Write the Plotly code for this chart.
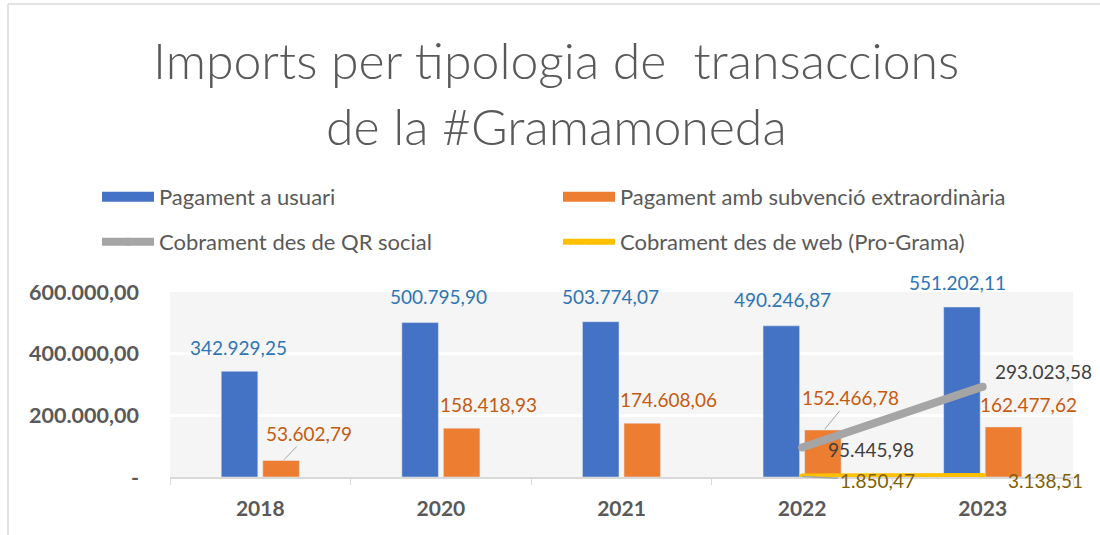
import plotly.graph_objects as go

years = ["2018", "2020", "2021", "2022", "2023"]
pagament_usuari = [342929.25, 500795.90, 503774.07, 490246.87, 551202.11]
pagament_subvencio = [53602.79, 158418.93, 174608.06, 152466.78, 162477.62]
line_years = ["2022", "2023"]
cobrament_qr = [95445.98, 293023.58]
cobrament_web = [1850.47, 3138.51]

y_tickvals = [0, 200000, 400000, 600000]
y_ticktext = ["-", "200.000,00", "400.000,00", "600.000,00"]


def fmt(v):
    s = f"{v:,.2f}"
    return s.replace(",", "X").replace(".", ",").replace("X", ".")


W, H = 1100, 535
ML, MR, MT, MB = 170, 27, 292, 58
PW, PH = W - ML - MR, H - MT - MB

BLUE, ORANGE, GRAY, YELLOW = "#4472C4", "#ED7D31", "#A5A5A5", "#FFC000"
FONT = "Lato"
TXT = "#595959"

fig = go.Figure()
fig.add_trace(go.Bar(x=years, y=pagament_usuari, name="Pagament a usuari",
                     marker_color=BLUE, showlegend=False))
fig.add_trace(go.Bar(x=years, y=pagament_subvencio, name="Pagament amb subvenció extraordinària",
                     marker_color=ORANGE, showlegend=False))
fig.add_trace(go.Scatter(x=line_years, y=cobrament_qr, name="Cobrament des de QR social",
                         mode="lines+markers", line=dict(color=GRAY, width=8),
                         marker=dict(color=GRAY, size=8), legend="legend2"))
fig.add_trace(go.Scatter(x=line_years, y=cobrament_web, name="Cobrament des de web (Pro-Grama)",
                         mode="lines+markers", line=dict(color=YELLOW, width=6),
                         marker=dict(color=YELLOW, size=6), legend="legend2"))
# legend swatches for the bar series (wide rectangles as in the original)
for nm, col in [("Pagament a usuari", BLUE), ("Pagament amb subvenció extraordinària", ORANGE)]:
    fig.add_trace(go.Scatter(x=[None], y=[None], name=nm, mode="lines",
                             line=dict(color=col, width=14), legend="legend"))


def xi(yr):
    return years.index(yr)


ann = []
lab_font = dict(family=FONT, size=19)
# blue labels (x offset, y offset in px relative to category centre / bar top)
blue_off = [(-22, 24), (-2, 26), (-11, 25), (-20, 26), (-25, 25)]
for (yr, v), (dx, dy) in zip(zip(years, pagament_usuari), blue_off):
    ann.append(dict(x=xi(yr), y=v, text=fmt(v), showarrow=False, xshift=dx, yshift=dy,
                    font=dict(lab_font, color="#2E75B6")))
# orange labels
orange_off = [(23, 26, -27, True), (48, 0, 24, False), (47, 0, 24, False),
              (22, 26, -32, True), (46, 0, 22, False)]
for (yr, v), (dx, ax, ay, arrow) in zip(zip(years, pagament_subvencio), orange_off):
    if arrow:
        ann.append(dict(x=xi(yr), y=v, text=fmt(v), showarrow=True, xshift=dx, ax=ax, ay=ay,
                        arrowhead=0, arrowwidth=1, arrowcolor="#A5A5A5", standoff=1,
                        font=dict(lab_font, color="#C55A11")))
    else:
        ann.append(dict(x=xi(yr), y=v, text=fmt(v), showarrow=False, xshift=dx, yshift=ay,
                        font=dict(lab_font, color="#C55A11")))
# gray labels
ann.append(dict(x=xi(line_years[0]), y=cobrament_qr[0], text=fmt(cobrament_qr[0]), showarrow=False,
                xshift=69, yshift=-2, font=dict(lab_font, color="#404040")))
ann.append(dict(x=xi(line_years[1]), y=cobrament_qr[1], text=fmt(cobrament_qr[1]), showarrow=False,
                xshift=61, yshift=15, font=dict(lab_font, color="#404040")))
# yellow labels
ann.append(dict(x=xi(line_years[0]), y=cobrament_web[0], text=fmt(cobrament_web[0]), showarrow=True,
                ax=75, ay=4, arrowhead=0, arrowwidth=1.5, arrowcolor="#A5A5A5", standoff=0,
                font=dict(lab_font, color="#7F6000")))
ann.append(dict(x=xi(line_years[1]), y=cobrament_web[1], text=fmt(cobrament_web[1]), showarrow=False,
                xshift=63, yshift=-4, font=dict(lab_font, color="#7F6000")))

# title lines
for txt, ypx in [("Imports per tipologia de  transaccions", 60), ("de la #Gramamoneda", 126)]:
    ann.append(dict(xref="paper", yref="paper", x=(556 - ML) / PW, y=(H - MB - ypx) / PH,
                    xanchor="center", yanchor="middle", text=txt, showarrow=False,
                    font=dict(family=FONT, size=50, color=TXT, weight=300)))

shapes = [
    dict(type="line", xref="paper", yref="paper", x0=(8 - ML) / PW, x1=(W - ML) / PW,
         y0=(H - MB - 4) / PH, y1=(H - MB - 4) / PH, line=dict(color="#D9D9D9", width=1.5)),
    dict(type="line", xref="paper", yref="paper", x0=(8 - ML) / PW, x1=(8 - ML) / PW,
         y0=(H - MB - 4) / PH, y1=(H - MB - H) / PH, line=dict(color="#D9D9D9", width=1.5)),
]

leg_common = dict(orientation="h", x=(97 - ML) / PW, xanchor="left", yanchor="middle",
                  entrywidth=394, itemwidth=52, bgcolor="rgba(0,0,0,0)",
                  font=dict(family=FONT, size=22, color=TXT))

fig.update_layout(
    width=W, height=H,
    margin=dict(l=ML, r=MR, t=MT, b=MB, autoexpand=False),
    paper_bgcolor="white", plot_bgcolor="#F5F5F5",
    barmode="group", bargap=0.54, bargroupgap=0.12,
    font=dict(family=FONT, color=TXT),
    annotations=ann, shapes=shapes,
    legend=dict(leg_common, y=(H - MB - 197) / PH),
    legend2=dict(leg_common, y=(H - MB - 242) / PH),
    xaxis=dict(type="category", range=[-0.5, len(years) - 0.5], showline=True,
               linecolor="#D9D9D9", linewidth=1.5, ticks="outside",
               tickson="boundaries", ticklen=6, tickcolor="#D9D9D9", tickangle=0, automargin=False,
               tickfont=dict(family=FONT, size=21, color=TXT, weight="bold"),
               ticklabelstandoff=12, showgrid=False),
    yaxis=dict(range=[0, 600000], tickvals=y_tickvals, ticktext=y_ticktext, automargin=False,
               tickfont=dict(family=FONT, size=21.5, color=TXT, weight="bold"),
               showgrid=True, gridcolor="white", gridwidth=3, zeroline=False,
               ticklabelstandoff=30),
)

fig.write_html("out.html", config={"displayModeBar": False},
               post_script="document.body.style.margin='0px';")
